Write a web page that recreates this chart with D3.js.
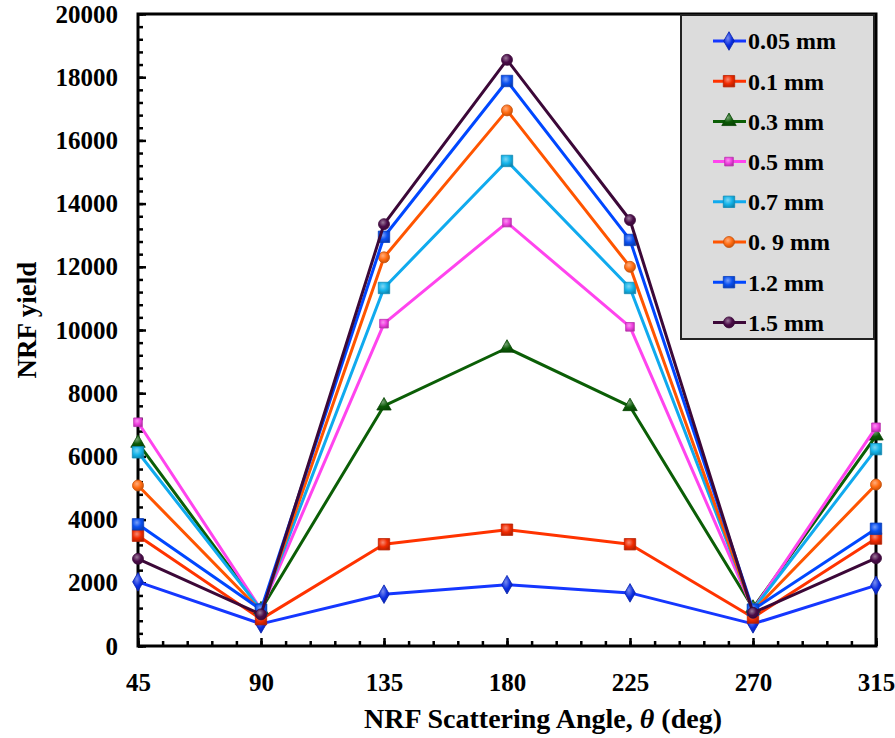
<!DOCTYPE html>
<html>
<head>
<meta charset="utf-8">
<script src="https://cdn.jsdelivr.net/npm/d3@7/dist/d3.min.js"></script>
<style>
  html, body { margin: 0; padding: 0; background: #fff; }
  svg { display: block; }
  text { font-family: "Liberation Serif", "Times New Roman", serif; font-weight: bold; fill: #000; }
</style>
</head>
<body>
<svg id="chart" width="895" height="738"></svg>
<script>
// Scattering angles (deg) and NRF yields for each sample thickness
const angles = [45, 90, 135, 180, 225, 270, 315];
const thicknessLabels = ["0.05 mm", "0.1 mm", "0.3 mm", "0.5 mm", "0.7 mm", "0. 9 mm", "1.2 mm", "1.5 mm"];
const yield005 = [2030, 700, 1640, 1940, 1680, 700, 1920];
const yield01  = [3490, 850, 3220, 3680, 3220, 900, 3400];
const yield03  = [6420, 1150, 7600, 9430, 7580, 1200, 6650];
const yield05  = [7080, 1150, 10200, 13400, 10100, 1150, 6920];
const yield07  = [6130, 1150, 11330, 15350, 11330, 1150, 6230];
const yield09  = [5080, 1100, 12300, 16950, 12000, 1100, 5110];
const yield12  = [3850, 1150, 12950, 17880, 12850, 1150, 3710];
const yield15  = [2760, 1000, 13350, 18550, 13480, 1050, 2780];
const yTicks = [0, 2000, 4000, 6000, 8000, 10000, 12000, 14000, 16000, 18000, 20000];

const seriesValues = [yield005, yield01, yield03, yield05, yield07, yield09, yield12, yield15];
const lineColors   = ["#1537ff", "#ff3300", "#0b5e06", "#ff44ee", "#10aaee", "#ff5500", "#0047ff", "#3c0838"];
const markerColors = ["#0b2de0", "#f02a00", "#0a5a05", "#f040e0", "#14b4ea", "#ff6a10", "#0a50f0", "#4a0c48"];
const markerShapes = ["diamond", "bigSquare", "triangle", "smallSquare", "bigSquare", "circle", "bigSquare", "circle"];

const svg = d3.select("#chart");
const margin = { left: 138, right: 876, top: 14, bottom: 646 };

const x = d3.scaleLinear().domain([45, 315]).range([margin.left, margin.right]);
const y = d3.scaleLinear().domain([0, 20000]).range([margin.bottom, margin.top]);

// marker gradients (glossy look)
const defs = svg.append("defs");
markerColors.forEach((c, i) => {
  const g = defs.append("radialGradient").attr("id", "mk" + i)
    .attr("cx", "40%").attr("cy", "35%").attr("r", "70%");
  g.append("stop").attr("offset", "0%").attr("stop-color", d3.interpolateRgb(c, "#fff")(0.45));
  g.append("stop").attr("offset", "55%").attr("stop-color", c);
  g.append("stop").attr("offset", "100%").attr("stop-color", d3.color(c).darker(0.8));
});

function drawMarker(sel, shape, i) {
  const fill = `url(#mk${i})`;
  const stroke = d3.color(markerColors[i]).darker(0.7);
  let sym;
  if (shape === "diamond") sym = d3.symbol(d3.symbolDiamond, 100);
  else if (shape === "bigSquare") sym = d3.symbol(d3.symbolSquare, 130);
  else if (shape === "smallSquare") sym = d3.symbol(d3.symbolSquare, 75);
  else if (shape === "triangle") sym = d3.symbol(d3.symbolTriangle, 90);
  else sym = d3.symbol(d3.symbolCircle, 95);
  sel.append("path").attr("d", sym).attr("fill", fill)
    .attr("stroke", stroke).attr("stroke-width", 0.8);
}

// axes: major ticks with labels, minor ticks inward
const yAxis = d3.axisLeft(y).tickValues(yTicks).tickFormat(d3.format("d"))
  .tickSizeInner(-8).tickSizeOuter(0).tickPadding(20);
const yMinor = d3.axisLeft(y).tickValues(d3.range(0, 20001, 400)).tickSizeInner(-5).tickSizeOuter(0).tickFormat("");
const xAxis = d3.axisBottom(x).tickValues(angles).tickSizeInner(-8).tickSizeOuter(0).tickPadding(37);
const xMinor = d3.axisBottom(x).tickValues(d3.range(45, 316, 9)).tickSizeInner(-5).tickSizeOuter(0).tickFormat("");

function styleAxis(g) {
  g.select(".domain").remove();
  g.selectAll(".tick line").attr("stroke", "#000").attr("stroke-width", 2.5);
  g.selectAll(".tick text").attr("font-size", 25).attr("font-family", null).attr("fill", "#000");
}

svg.append("g").attr("transform", `translate(${margin.left},0)`).call(yMinor).call(styleAxis);
svg.append("g").attr("transform", `translate(${margin.left},0)`).call(yAxis).call(styleAxis);
svg.append("g").attr("transform", `translate(0,${margin.bottom})`).call(xMinor).call(styleAxis);
const gx = svg.append("g").attr("transform", `translate(0,${margin.bottom})`).call(xAxis).call(styleAxis);
gx.selectAll(".tick text").attr("dy", "0.32em");

// plot frame
svg.append("rect").attr("x", margin.left).attr("y", margin.top)
  .attr("width", margin.right - margin.left).attr("height", margin.bottom - margin.top)
  .attr("fill", "none").attr("stroke", "#000").attr("stroke-width", 3);

// series lines and markers
const line = d3.line().x((d, k) => x(angles[k])).y(d => y(d));
seriesValues.forEach((vals, i) => {
  const g = svg.append("g");
  g.append("path").attr("d", line(vals)).attr("fill", "none")
    .attr("stroke", lineColors[i]).attr("stroke-width", 3).attr("stroke-linejoin", "round");
  vals.forEach((v, k) => {
    const m = g.append("g").attr("transform", `translate(${x(angles[k])},${y(v)})`);
    drawMarker(m, markerShapes[i], i);
  });
});

// legend
const lg = svg.append("g");
lg.append("rect").attr("x", 681).attr("y", 15).attr("width", 193).attr("height", 324)
  .attr("fill", "#dcdcdc").attr("stroke", "#222").attr("stroke-width", 2);
thicknessLabels.forEach((lab, i) => {
  const cy = 41 + i * 40.2;
  lg.append("line").attr("x1", 713).attr("x2", 746).attr("y1", cy).attr("y2", cy)
    .attr("stroke", lineColors[i]).attr("stroke-width", 3);
  const m = lg.append("g").attr("transform", `translate(729,${cy})`);
  drawMarker(m, markerShapes[i], i);
  lg.append("text").attr("x", 748).attr("y", cy)
    .attr("dy", "0.35em").attr("font-size", 24).text(lab);
});

// axis titles
svg.append("text").attr("transform", "translate(27,320) rotate(-90)")
  .attr("text-anchor", "middle").attr("dy", "0.35em").attr("font-size", 27).text("NRF yield");
const xt = svg.append("text").attr("x", 543).attr("y", 718)
  .attr("text-anchor", "middle").attr("dy", "0.35em").attr("font-size", 28);
xt.append("tspan").text("NRF Scattering Angle, ");
xt.append("tspan").attr("font-style", "italic").text("θ");
xt.append("tspan").text(" (deg)");
</script>
</body>
</html>
